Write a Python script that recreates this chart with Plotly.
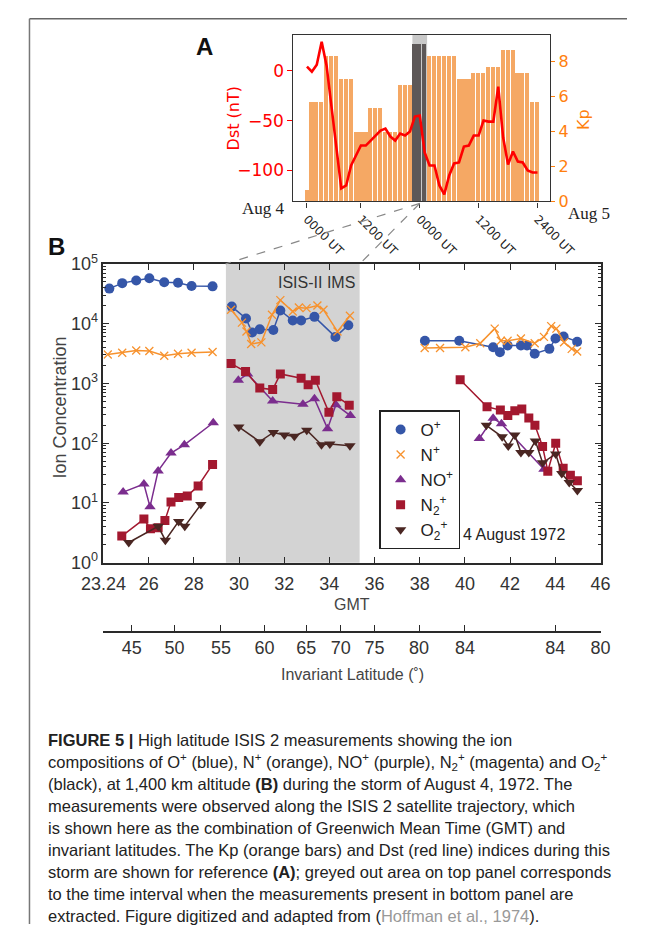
import plotly.graph_objects as go

W, H = 653, 934

def px(x):
    return x / W

def py(y):
    return 1 - y / H

# ---------------- Panel A: Kp (hourly bars) and Dst ----------------
hours = list(range(48))
kp = [0.67, 5.67, 5.67, 5.67, 8.33, 8.33, 8.33, 7.0, 7.0, 7.0,
      4.0, 4.0, 4.0, 5.33, 5.33, 5.33, 4.0, 4.0, 4.0, 6.67,
      6.67, 6.67, 9.0, 9.0, 9.0, 8.33, 8.33, 8.33, 8.33, 8.33,
      8.33, 7.0, 7.0, 7.0, 7.33, 7.33, 7.33, 7.67, 7.67, 7.67,
      8.67, 8.67, 8.67, 7.33, 7.33, 7.33, 5.67, 5.67]
dst = [4, -1, 6, 29, 5, -36, -79, -118, -115, -95,
       -85, -75, -75, -70, -66, -60, -58, -66, -70, -63,
       -65, -61, -46, -45, -82, -95, -95, -115, -124, -105,
       -93, -92, -76, -75, -65, -65, -50, -51, -51, -16,
       -67, -94, -81, -91, -92, -100, -102, -102]
storm_hours = [22, 23, 24]          # interval sampled in panel B
ut_ticks = [0, 11, 23, 35, 47]
ut_labels = ["0000 UT", "1200 UT", "0000 UT", "1200 UT", "2400 UT"]

# ---------------- Panel B: ion concentrations ----------------
# each species is stored as three passes: pre-storm, ISIS-II IMS window, high latitude
o_gmt = [[24.26, 24.83, 25.45, 26.03, 26.69, 27.30, 27.90, 28.83],
         [29.68, 30.31, 30.58, 30.92, 31.52, 31.83, 32.38, 32.75, 33.34, 34.27, 34.84],
         [38.23, 39.75, 41.25, 41.55, 41.89, 42.48, 42.75, 43.09, 43.74, 44.01, 44.37, 44.97]]
o_val = [[38600, 47700, 52700, 57500, 49400, 48400, 42600, 42100],
         [19300, 12200, 7100, 8040, 7830, 16600, 11300, 11300, 13000, 6010, 9440],
         [5180, 5180, 4040, 3340, 4330, 4330, 4330, 3140, 3790, 5660, 6110, 5000]]

n_gmt = [[24.19, 24.83, 25.45, 26.03, 26.69, 27.30, 27.90, 28.83],
         [29.65, 30.13, 30.33, 30.54, 30.99, 31.46, 31.83, 32.38, 32.65, 32.99, 33.47, 33.74, 34.36, 34.91],
         [38.22, 38.90, 40.02, 40.68, 41.32, 41.59, 41.89, 42.48, 43.09, 43.50, 43.82, 44.05, 44.39, 44.73, 44.97]]
n_val = [[3050, 3260, 3550, 3480, 2910, 3140, 3260, 3350],
         [17100, 10400, 7390, 4570, 4870, 14100, 24800, 16000, 18600, 18200, 20100, 17100, 7390, 13600],
         [3930, 3930, 4040, 4700, 8260, 5180, 5180, 5660, 4700, 6010, 9100, 8260, 4880, 3790, 3420]]

no_gmt = [[24.87, 25.79, 26.06, 26.42, 26.99, 27.58, 28.86],
          [29.97, 30.38, 31.49, 32.83, 33.34, 33.92, 34.29, 34.93],
          [40.64, 41.25, 41.62, 43.50]]
no_val = [[15.2, 20.8, 8.6, 34.4, 68.4, 93.8, 220],
          [1130, 1440, 510, 449, 556, 175, 439, 290],
          [120, 262, 211, 36.6]]

n2_gmt = [[24.81, 25.79, 26.08, 26.42, 26.72, 26.99, 27.33, 27.71, 28.19, 28.83],
          [29.65, 30.29, 30.92, 31.49, 31.83, 32.75, 33.06, 33.38, 33.98, 34.33, 34.88],
          [39.79, 40.98, 41.57, 41.90, 42.21, 42.52, 42.83, 43.10, 43.44, 43.67, 44.02, 44.35, 44.67, 44.98]]
n2_val = [[2.79, 5.37, 3.69, 3.83, 5.10, 10.4, 12.3, 13.1, 19.3, 44.2],
          [2150, 1580, 841, 789, 1440, 1220, 952, 1130, 328, 600, 432],
          [1150, 406, 358, 290, 350, 372, 265, 199, 88, 34, 99.7, 38, 29, 23.6]]

o2_gmt = [[25.12, 26.42, 26.74, 27.33, 27.60, 28.31],
          [29.99, 30.92, 31.52, 32.01, 32.45, 33.00, 33.65, 34.02, 34.91],
          [40.95, 41.65, 41.92, 42.21, 42.48, 42.83, 43.12, 43.44, 44.02, 44.29, 44.62, 44.98]]
o2_val = [[2.18, 4.07, 2.38, 4.91, 4.07, 9.4],
          [187, 106, 151, 137, 131, 165, 94, 97, 91],
          [199, 128, 90, 137, 70, 70, 109, 47, 66, 31, 22, 16.2]]

gmt_ticks = [24.0, 26, 28, 30, 32, 34, 36, 38, 40, 42, 44, 46]
gmt_labels = ["23.24", "26", "28", "30", "32", "34", "36", "38", "40", "42", "44", "46"]
lat_gmt = [25.25, 27.14, 29.2, 31.13, 32.98, 34.5, 36.0, 37.97, 40.0, 44.0, 46.0]
lat_labels = ["45", "50", "55", "60", "65", "70", "75", "80", "84", "84", "80"]
ims_window = [29.42, 35.34]

species = [
    ("O<sup>+</sup>", o_gmt, o_val, "#3556a8", "circle", 10),
    ("N<sup>+</sup>", n_gmt, n_val, "#f7922e", "x-thin", 8),
    ("NO<sup>+</sup>", no_gmt, no_val, "#7b2d8e", "triangle-up", 10),
    ("N<sub>2</sub><sup>+</sup>", n2_gmt, n2_val, "#a3182f", "square", 9),
    ("O<sub>2</sub><sup>+</sup>", o2_gmt, o2_val, "#4a2622", "triangle-down", 10),
]

fig = go.Figure()

bar_colors = ["#5d5858" if h in storm_hours else "rgb(245,168,100)" for h in hours]
fig.add_trace(go.Bar(x=hours, y=kp, marker=dict(color=bar_colors, line=dict(width=0)),
                     width=0.84, xaxis="x", yaxis="y", showlegend=False, hoverinfo="skip"))
fig.add_trace(go.Scatter(x=hours, y=dst, mode="lines", line=dict(color="#ff0000", width=2.6),
                         xaxis="x", yaxis="y2", showlegend=False))

for name, gx, gv, col, sym, size in species:
    xs, ys = [], []
    for seg_x, seg_v in zip(gx, gv):
        xs += seg_x + [None]
        ys += seg_v + [None]
    mk = dict(color=col, symbol=sym, size=size)
    if sym == "x-thin":
        mk["line"] = dict(color=col, width=1.3)
    fig.add_trace(go.Scatter(x=xs, y=ys, mode="lines+markers", connectgaps=False,
                             line=dict(color=col, width=1.5), marker=mk,
                             xaxis="x2", yaxis="y3", showlegend=False))
    fig.add_trace(go.Scatter(x=[None], y=[None], mode="markers", marker=mk, name=name,
                             xaxis="x2", yaxis="y3", showlegend=True))

# carrier for the invariant-latitude axis
fig.add_trace(go.Scatter(x=[lat_gmt[0]], y=[1], mode="markers", marker=dict(opacity=0),
                         xaxis="x3", yaxis="y3", showlegend=False, hoverinfo="skip"))

sans = "Liberation Sans"
dv = "DejaVu Sans"
dark = "#2a2a2a"

fig.update_layout(
    width=W, height=H, autosize=False,
    margin=dict(l=0, r=0, t=0, b=0),
    paper_bgcolor="white", plot_bgcolor="white",
    bargap=0,
    xaxis=dict(domain=[px(292.3), px(570)], range=[-2.77, 49.6], anchor="y",
               tickmode="array", tickvals=ut_ticks, ticktext=ut_labels, tickangle=45,
               ticks="outside", ticklen=5, tickcolor="#333", showline=True,
               linecolor="#333", linewidth=1.2, mirror=True, showgrid=False, zeroline=False,
               tickfont=dict(family=dv, size=12, color="#222")),
    yaxis=dict(domain=[py(194), py(23.3)], range=[0, 9.5], side="right", anchor="x",
               tickmode="array", tickvals=[0, 2, 4, 6, 8], ticks="outside", ticklen=4,
               tickcolor="#ff7f0e", tickfont=dict(family=dv, size=16, color="#ff7f0e"),
               showline=True, linecolor="#333", linewidth=1.2, mirror=True,
               showgrid=False, zeroline=False),
    yaxis2=dict(overlaying="y", side="left", anchor="x", range=[-131, 36],
                tickmode="array", tickvals=[-100, -50, 0], ticks="outside", ticklen=5,
                tickcolor="#ff0000", tickfont=dict(family=dv, size=17, color="#ff0000"),
                showline=False, showgrid=False, zeroline=False),
    xaxis2=dict(domain=[px(87), px(625)], range=[24.0, 46.03], anchor="y3",
                tickmode="array", tickvals=gmt_ticks, ticktext=gmt_labels,
                ticks="inside", ticklen=6, tickwidth=1.2, tickcolor=dark,
                showline=True, linecolor=dark, linewidth=1.5, mirror="ticks",
                showgrid=False, zeroline=False, ticklabelstandoff=4,
                tickfont=dict(family=sans, size=18, color="#333")),
    yaxis3=dict(type="log", domain=[py(564), py(258)], range=[0, 5], anchor="x2",
                tickmode="array", tickvals=[1, 10, 100, 1000, 10000, 100000],
                ticktext=["10<sup>0</sup>", "10<sup>1</sup>", "10<sup>2</sup>",
                          "10<sup>3</sup>", "10<sup>4</sup>", "10<sup>5</sup>"],
                ticks="inside", ticklen=6, tickwidth=1.2, tickcolor=dark,
                showline=True, linecolor=dark, linewidth=1.5, mirror="ticks",
                showgrid=False, zeroline=False,
                minor=dict(ticks="inside", ticklen=3, tickcolor=dark,
                           tickvals=[m * d for d in [1, 10, 100, 1000, 10000] for m in range(2, 10)]),
                tickfont=dict(family=sans, size=18, color="#333")),
    xaxis3=dict(overlaying="x2", anchor="free", position=py(635), side="bottom",
                range=[24.0, 46.03], tickmode="array", tickvals=lat_gmt, ticktext=lat_labels,
                ticks="inside", ticklen=6, tickwidth=1.2, tickcolor=dark,
                showline=True, linecolor=dark, linewidth=1.5, showgrid=False, zeroline=False,
                tickfont=dict(family=sans, size=18, color="#333")),
    legend=dict(x=px(385), y=py(408), xanchor="left", yanchor="top",
                bordercolor="#222", borderwidth=1.5, bgcolor="white",
                font=dict(family=sans, size=17, color="#222"), tracegroupgap=0,
                itemwidth=30),
)

shapes = [
    # ISIS-II IMS interval in both panels
    dict(type="rect", xref="x", yref="y domain", x0=21.5, x1=24.5, y0=0, y1=1,
         fillcolor="#c9c9c9", line=dict(width=0), layer="below"),
    dict(type="rect", xref="x2", yref="y3 domain", x0=ims_window[0], x1=ims_window[1],
         y0=0, y1=1, fillcolor="#d3d3d3", line=dict(width=0), layer="below"),
    # zoom connectors between the panels
    dict(type="line", xref="paper", yref="paper", x0=px(429), y0=py(196), x1=px(219), y1=py(258),
         line=dict(color="#888", width=1.2, dash="dash")),
    dict(type="line", xref="paper", yref="paper", x0=px(429), y0=py(196), x1=px(364), y1=py(258),
         line=dict(color="#888", width=1.2, dash="dash")),
    # page frame
    dict(type="line", xref="paper", yref="paper", x0=px(7), y0=py(7), x1=1, y1=py(7),
         line=dict(color="#666", width=1.5)),
    dict(type="line", xref="paper", yref="paper", x0=px(7), y0=py(7), x1=px(7), y1=0,
         line=dict(color="#777", width=1.5)),
]
fig.update_layout(shapes=shapes)

def note(text, x, y, size, color="#333", family=sans, angle=0, xanchor="center", **kw):
    return dict(text=text, x=px(x), y=py(y), xref="paper", yref="paper", showarrow=False,
                font=dict(family=family, size=size, color=color), textangle=angle,
                xanchor=xanchor, yanchor="middle", **kw)

annotations = [
    note("<b>A</b>", 196, 35, 24, color="#111"),
    note("<b>B</b>", 36, 240, 24, color="#111"),
    note("Dst (nT)", 227, 109, 16, color="#ff0000", family=dv, angle=-90),
    note("Kp", 606, 110, 16, color="#ff7f0e", family=dv, angle=-90),
    note("Aug 4", 260, 201, 17, color="#222", family="Liberation Serif"),
    note("Aug 5", 612, 206, 17, color="#222", family="Liberation Serif"),
    note("ISIS-II IMS", 361, 277, 16, xanchor="right"),
    note("4 August 1972", 531, 535, 16, color="#222"),
    note("Ion Concentration", 40, 405, 18, color="#444", angle=-90),
    note("GMT", 356, 607, 16, color="#444"),
    note("Invariant Latitude (˚)", 356, 678, 16, color="#444"),
]

caption = [
    "<b>FIGURE 5 |</b> High latitude ISIS 2 measurements showing the ion",
    "compositions of O<sup>+</sup> (blue), N<sup>+</sup> (orange), NO<sup>+</sup> (purple), "
    "N<sub>2</sub><sup>+</sup> (magenta) and O<sub>2</sub><sup>+</sup>",
    "(black), at 1,400 km altitude <b>(B)</b> during the storm of August 4, 1972. The",
    "measurements were observed along the ISIS 2 satellite trajectory, which",
    "is shown here as the combination of Greenwich Mean Time (GMT) and",
    "invariant latitudes. The Kp (orange bars) and Dst (red line) indices during this",
    "storm are shown for reference <b>(A)</b>; greyed out area on top panel corresponds",
    "to the time interval when the measurements present in bottom panel are",
    "extracted. Figure digitized and adapted from "
    "(<span style='color:#999999'>Hoffman et al., 1974</span>).",
]
for i, line in enumerate(caption):
    annotations.append(note(line, 25, 746 + 22.5 * i, 16.5, color="#222", xanchor="left"))

fig.update_layout(annotations=annotations)

fig.write_html("out.html")
